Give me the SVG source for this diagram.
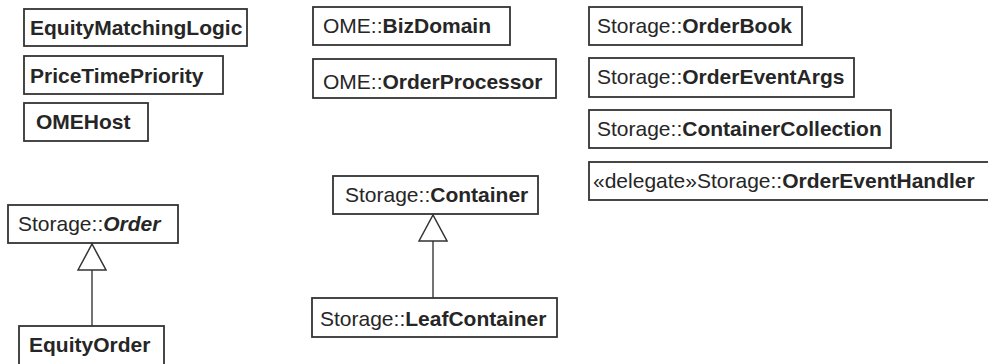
<svg xmlns="http://www.w3.org/2000/svg" width="988" height="364" viewBox="0 0 988 364">
  <style>
    .box { fill: #ffffff; stroke: #333333; stroke-width: 1.8; }
    .lbl { font-family: "Liberation Sans", Arial, sans-serif; font-size: 21px; fill: #262626; }
    .b { font-weight: bold; }
    .bi { font-weight: bold; font-style: italic; }
    .edge { stroke: #444444; stroke-width: 1.5; fill: none; }
  </style>
  <defs>
    <!-- hollow triangle for generalization -->
    <marker id="gen" viewBox="0 0 28 30" refX="28" refY="15" markerWidth="28" markerHeight="30" markerUnits="userSpaceOnUse" orient="auto">
      <path d="M1,1 L27,15 L1,29 Z" fill="#ffffff" stroke="#333333" stroke-width="1.5"/>
    </marker>
  </defs>
  <rect width="988" height="364" fill="#ffffff"/>

  <!-- connectors -->
  <g id="connectors">
    <line class="edge" x1="92" y1="326" x2="92" y2="243" marker-end="url(#gen)"/>
    <line class="edge" x1="433" y1="298" x2="433" y2="214" marker-end="url(#gen)"/>
  </g>

  <!-- left column -->
  <g id="EquityMatchingLogic">
    <rect class="box" x="24" y="9" width="223" height="37"/>
    <text class="lbl b" x="30" y="35">EquityMatchingLogic</text>
  </g>
  <g id="PriceTimePriority">
    <rect class="box" x="24" y="56" width="199" height="38"/>
    <text class="lbl b" x="30" y="83">PriceTimePriority</text>
  </g>
  <g id="OMEHost">
    <rect class="box" x="24" y="103" width="124" height="38"/>
    <text class="lbl b" x="36" y="129">OMEHost</text>
  </g>
  <g id="Order">
    <rect class="box" x="8" y="205" width="170" height="38"/>
    <text class="lbl" x="18" y="231">Storage::<tspan class="bi">Order</tspan></text>
  </g>
  <g id="EquityOrder">
    <rect class="box" x="19" y="326" width="145" height="44"/>
    <text class="lbl b" x="29" y="352">EquityOrder</text>
  </g>

  <!-- middle column -->
  <g id="BizDomain">
    <rect class="box" x="313" y="7" width="197" height="38"/>
    <text class="lbl" x="323" y="33">OME::<tspan class="b">BizDomain</tspan></text>
  </g>
  <g id="OrderProcessor">
    <rect class="box" x="313" y="59" width="243" height="39"/>
    <text class="lbl" x="323" y="89">OME::<tspan class="b">OrderProcessor</tspan></text>
  </g>
  <g id="Container">
    <rect class="box" x="333" y="176" width="205" height="38"/>
    <text class="lbl" x="345" y="202">Storage::<tspan class="b">Container</tspan></text>
  </g>
  <g id="LeafContainer">
    <rect class="box" x="312" y="298" width="245" height="39"/>
    <text class="lbl" x="320" y="326">Storage::<tspan class="b">LeafContainer</tspan></text>
  </g>

  <!-- right column -->
  <g id="OrderBook">
    <rect class="box" x="589" y="7" width="213" height="38"/>
    <text class="lbl" x="597" y="33">Storage::<tspan class="b">OrderBook</tspan></text>
  </g>
  <g id="OrderEventArgs">
    <rect class="box" x="589" y="58" width="265" height="39"/>
    <text class="lbl" x="597" y="84">Storage::<tspan class="b">OrderEventArgs</tspan></text>
  </g>
  <g id="ContainerCollection">
    <rect class="box" x="589" y="110" width="302" height="38"/>
    <text class="lbl" x="597" y="136">Storage::<tspan class="b">ContainerCollection</tspan></text>
  </g>
  <g id="OrderEventHandler">
    <rect class="box" x="589" y="162" width="410" height="38"/>
    <text class="lbl" x="593" y="188">«delegate»Storage::<tspan class="b">OrderEventHandler</tspan></text>
  </g>
</svg>
